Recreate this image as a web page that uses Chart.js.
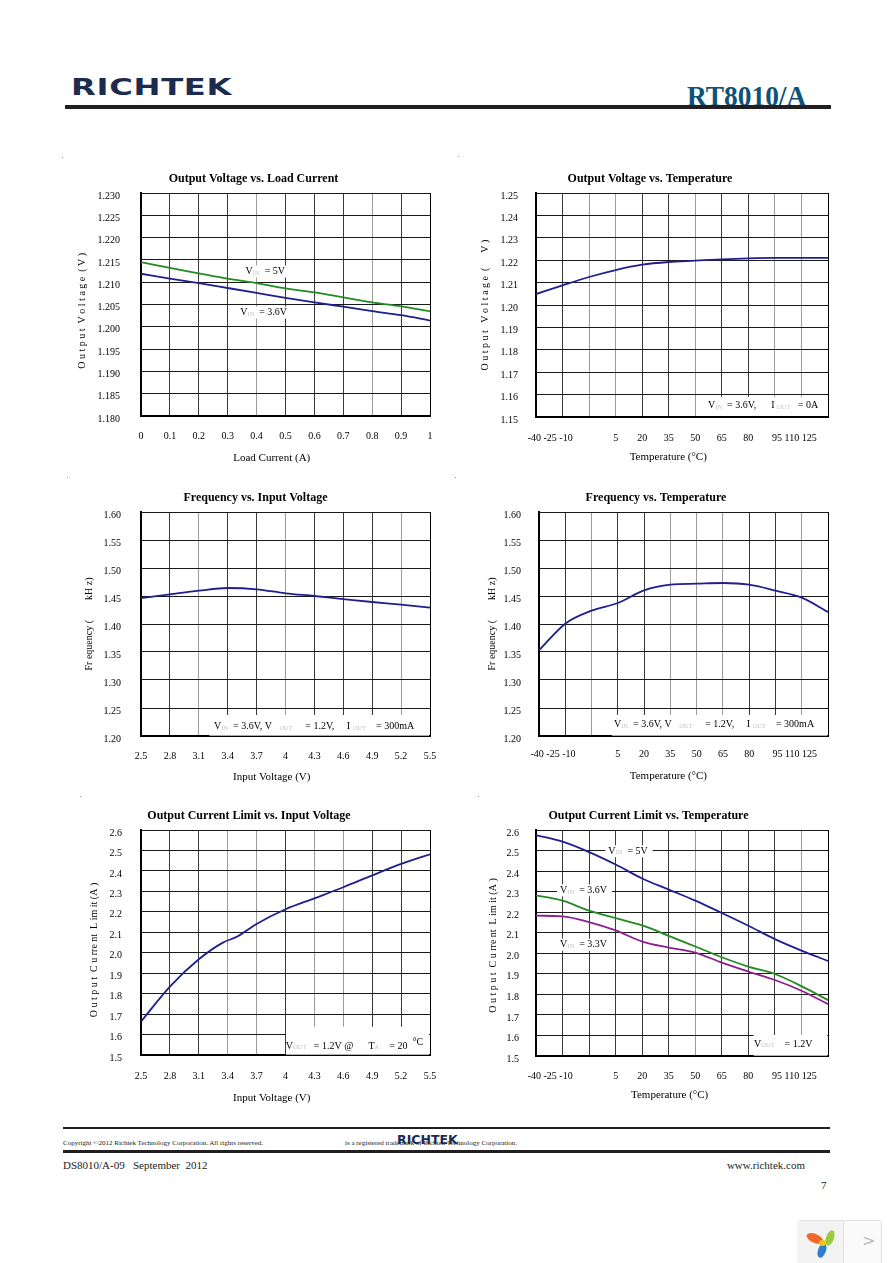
<!DOCTYPE html>
<html><head><meta charset="utf-8">
<script src="https://cdn.jsdelivr.net/npm/chart.js@4.4.0/dist/chart.umd.min.js"></script>
<style>
html,body{margin:0;padding:0;background:#fff;}
body{width:892px;height:1263px;position:relative;overflow:hidden;font-family:"Liberation Serif",serif;}
.abs{position:absolute;white-space:pre;}
canvas{position:absolute;}
.petal{position:absolute;border-radius:50%;}
</style></head><body>
<div class="abs" style="left:71px;top:76.3px;font:bold 23px 'DejaVu Sans';line-height:23px;color:#1c2b4e;letter-spacing:0.5px;transform:scaleX(1.4);transform-origin:0 0;">RICHTEK</div>
<div class="abs" style="right:86px;top:82px;font:bold 29px 'Liberation Serif';line-height:29px;color:#0f5279;transform:scaleX(0.945);transform-origin:100% 0;">RT8010/A</div>
<div class="abs" style="left:65px;top:105px;width:766px;height:4px;background:#231f20"></div>

<div class="abs" style="left:62px;top:157px;width:1px;height:1px;background:#999"></div>
<div class="abs" style="left:458px;top:156px;width:1px;height:1px;background:#999"></div>
<div class="abs" style="left:67px;top:477px;width:1px;height:1px;background:#999"></div>
<div class="abs" style="left:455px;top:477px;width:1px;height:1px;background:#999"></div>
<div class="abs" style="left:80px;top:796px;width:1px;height:1px;background:#999"></div>
<div class="abs" style="left:478px;top:796px;width:1px;height:1px;background:#999"></div>

<div class="abs" style="left:63px;top:1127px;width:767px;height:2px;background:#231f20"></div>
<div class="abs" style="left:63px;top:1139px;font:7px 'Liberation Serif';color:#222;">Copyright ©2012 Richtek Technology Corporation. All rights reserved.</div>
<div class="abs" style="left:345px;top:1139px;font:7px 'Liberation Serif';color:#222;">is a registered trademark of Richtek Technology Corporation.</div>
<div class="abs" style="left:397px;top:1133.5px;font:bold 12.5px 'DejaVu Sans';line-height:12.5px;color:#1c2b4e;">RICHTEK</div>
<div class="abs" style="left:63px;top:1150px;width:767px;height:3px;background:#231f20"></div>
<div class="abs" style="left:63px;top:1159px;font:11px 'Liberation Serif';color:#222;">DS8010/A-09   September  2012</div>
<div class="abs" style="right:87px;top:1159px;font:11px 'Liberation Serif';color:#222;">www.richtek.com</div>
<div class="abs" style="left:821px;top:1179px;font:11px 'Liberation Serif';color:#222;">7</div>

<div class="abs" style="left:797px;top:1220px;width:83px;height:43px;background:#fafafa;border:1px solid #e2e2e2;border-radius:3px;"></div>
<div class="abs" style="left:797px;top:1221px;width:46px;height:42px;background:#f3f3f3;"></div>
<div class="abs" style="left:843px;top:1221px;width:1px;height:42px;background:#e2e2e2"></div>
<div class="petal" style="left:806px;top:1234px;width:18px;height:9px;background:#ef6a2a;transform:rotate(25deg);"></div>
<div class="petal" style="left:826px;top:1230px;width:8px;height:16px;background:#9ccc3c;transform:rotate(20deg);"></div>
<div class="petal" style="left:818px;top:1243px;width:8px;height:15px;background:#2f7fc8;transform:rotate(20deg);"></div>
<div class="petal" style="left:819px;top:1240px;width:7px;height:6px;background:#f5c518;"></div>
<div class="abs" style="left:862px;top:1231px;font:16px 'DejaVu Sans';color:#bbb;">&gt;</div>

<script>
const FONT = "'Liberation Serif', 'Times New Roman', serif";
const BLUE = '#1f1f8f', GREEN = '#228b22', PURPLE = '#8e1f8e';

// ---------- data ----------
const loadCurrent = [0, 0.1, 0.2, 0.3, 0.4, 0.5, 0.6, 0.7, 0.8, 0.9, 1.0];
const voutVin5  = [1.2145, 1.2132, 1.2120, 1.2108, 1.2098, 1.2086, 1.2077, 1.2066, 1.2055, 1.2046, 1.2035];
const voutVin36 = [1.2119, 1.2108, 1.2098, 1.2087, 1.2076, 1.2065, 1.2055, 1.2045, 1.2035, 1.2026, 1.2014];

const temperature = [-40, -25, -10, 5, 20, 35, 50, 65, 80, 95, 110, 125];
const voutVsTemp = [1.2049, 1.2088, 1.2125, 1.2156, 1.2180, 1.2192, 1.2198, 1.2204, 1.2208, 1.2210, 1.2210, 1.2210];

const inputVoltage = [2.5, 2.8, 3.1, 3.4, 3.7, 4.0, 4.3, 4.6, 4.9, 5.2, 5.5];
const freqVsVin = [1.4464, 1.4530, 1.4595, 1.4643, 1.4620, 1.4548, 1.4500, 1.4446, 1.4393, 1.4345, 1.4292];

const freqVsTemp = [1.3530, 1.4006, 1.4238, 1.4375, 1.4600, 1.4702, 1.4720, 1.4732, 1.4702, 1.4595, 1.4470, 1.4214];

const limitVinX = [2.5, 2.8, 3.1, 3.35, 3.5, 3.7, 4.0, 4.3, 4.6, 4.9, 5.2, 5.5];
const limitVsVin = [1.6635, 1.8345, 1.9680, 2.0495, 2.0790, 2.1407, 2.2124, 2.2660, 2.3200, 2.3780, 2.4340, 2.4810];

const limitTempVin5  = [2.5756, 2.5430, 2.4924, 2.4320, 2.3637, 2.3100, 2.2560, 2.1960, 2.1340, 2.0687, 2.0130, 1.9630];
const limitTempVin36 = [2.2820, 2.2560, 2.2072, 2.1710, 2.1355, 2.0850, 2.0330, 1.9807, 1.9350, 1.8990, 1.8400, 1.7720];
const limitTempVin33 = [2.1828, 2.1800, 2.1520, 2.1110, 2.0570, 2.0280, 2.0035, 1.9546, 1.9110, 1.8700, 1.8177, 1.7525];

// ---------- tick values / labels ----------
const loadTicks = [0, 0.1, 0.2, 0.3, 0.4, 0.5, 0.6, 0.7, 0.8, 0.9, 1.0];
const loadTickLabels = ['0', '0.1', '0.2', '0.3', '0.4', '0.5', '0.6', '0.7', '0.8', '0.9', '1'];
const vinTicks = [2.5, 2.8, 3.1, 3.4, 3.7, 4.0, 4.3, 4.6, 4.9, 5.2, 5.5];
const vinTickLabels = ['2.5', '2.8', '3.1', '3.4', '3.7', '4', '4.3', '4.6', '4.9', '5.2', '5.5'];
const tempTicks = [-40, -25, -10, 5, 20, 35, 50, 65, 80, 95, 110, 125];
const tempLabelPos = [-32, 5, 20, 35, 50, 65, 80, 106];
const tempLabelText = ['-40 -25 -10', '5', '20', '35', '50', '65', '80', '95 110 125'];
const voutTicks = [1.180, 1.185, 1.190, 1.195, 1.200, 1.205, 1.210, 1.215, 1.220, 1.225, 1.230];
const voutTempTicks = [1.15, 1.16, 1.17, 1.18, 1.19, 1.20, 1.21, 1.22, 1.23, 1.24, 1.25];
const freqTicks = [1.20, 1.25, 1.30, 1.35, 1.40, 1.45, 1.50, 1.55, 1.60];
const limitTicks = [1.5, 1.6, 1.7, 1.8, 1.9, 2.0, 2.1, 2.2, 2.3, 2.4, 2.5, 2.6];

// ---------- helpers ----------
const SHADE = {K: '#000', D: '#3a3a3a', G: '#9c9c9c'};
const PADR = 32;

function notesPlugin(items) {
  return {
    id: 'notes',
    beforeDatasetsDraw(chart) {
      const ctx = chart.ctx, xs = chart.scales.x, ys = chart.scales.y;
      const fontOf = s => (s.sub ? '6.5px ' : '10px ') + FONT;
      items.forEach(it => {
        ctx.save();
        if (it.box) {
          const a = xs.getPixelForValue(it.box[0]), b = xs.getPixelForValue(it.box[1]);
          const c = ys.getPixelForValue(it.box[2]), d = ys.getPixelForValue(it.box[3]);
          ctx.fillStyle = '#fff';
          ctx.fillRect(a, d, b - a, c - d);
        }
        let px = xs.getPixelForValue(it.x);
        const py = ys.getPixelForValue(it.y);
        let total = 0;
        it.segs.forEach(s => { ctx.font = fontOf(s); total += ctx.measureText(s.t).width; });
        if (it.bg) { ctx.fillStyle = '#fff'; ctx.fillRect(px - 3, py - 6, total + 8, 12); }
        ctx.textBaseline = 'middle';
        ctx.textAlign = 'left';
        it.segs.forEach(s => {
          ctx.font = fontOf(s);
          ctx.fillStyle = s.sub ? '#c4c4c4' : '#000';
          ctx.fillText(s.t, px, py + (s.sub ? 1.5 : (s.sup ? -4 : 0)));
          px += ctx.measureText(s.t).width;
        });
        ctx.restore();
      });
    }
  };
}

function makeChart(spec) {
  const x0 = 2 * spec.titleX - spec.R;
  const y0 = spec.T - 30;
  const W = Math.round(spec.R + PADR - x0);
  const H = Math.round(spec.xTitleY + 12 - y0);
  const cv = document.createElement('canvas');
  cv.width = W; cv.height = H;
  cv.style.left = x0 + 'px'; cv.style.top = y0 + 'px';
  cv.style.width = W + 'px'; cv.style.height = H + 'px';
  document.body.appendChild(cv);
  const yW = spec.L - x0;
  const xH = H - (spec.B - y0);
  new Chart(cv, {
    type: 'line',
    data: {
      datasets: spec.datasets.map(d => ({
        label: d.label,
        data: d.xs.map((xv, i) => ({x: xv, y: d.ys[i]})),
        borderColor: d.color, borderWidth: 1.8, pointRadius: 0, fill: false,
        cubicInterpolationMode: 'monotone', xAxisID: 'x', yAxisID: 'y'
      }))
    },
    options: {
      responsive: false, animation: false, devicePixelRatio: 1,
      events: [],
      layout: {padding: {left: 0, top: 0, right: W - (spec.R - x0), bottom: 0}},
      plugins: {
        legend: {display: false}, tooltip: {enabled: false},
        title: {display: true, text: spec.title, color: '#000',
          font: {family: FONT, size: 12, weight: 'bold', lineHeight: 1.2},
          padding: {top: 8.8, bottom: 6.8}}
      },
      scales: {
        x: {
          type: 'linear', position: 'bottom', weight: 0, min: spec.xMin, max: spec.xMax,
          afterBuildTicks: s => { s.ticks = spec.xGrid.map(v => ({value: v})); },
          afterFit: s => { s.height = 0; },
          grid: {drawTicks: false, lineWidth: 1, color: c => SHADE[spec.xShade[c.index]] || '#3a3a3a'},
          border: {display: true, color: '#000', width: 2},
          ticks: {display: false}
        },
        xl: {
          type: 'linear', position: 'bottom', weight: 1, min: spec.xMin, max: spec.xMax,
          afterBuildTicks: s => { s.ticks = spec.xLabelPos.map(v => ({value: v})); },
          afterFit: s => { s.height = xH; },
          grid: {display: false, drawTicks: false}, border: {display: false},
          ticks: {autoSkip: false, maxRotation: 0, minRotation: 0, padding: spec.xLabelY - spec.B - 6,
            color: '#000', font: {family: FONT, size: 10}, callback: (v, i) => spec.xLabelText[i]},
          title: {display: true, text: spec.xTitle, color: '#000', font: {family: FONT, size: 11}, padding: {top: 0, bottom: 5.4}}
        },
        y: {
          type: 'linear', min: spec.yMin, max: spec.yMax,
          afterBuildTicks: s => { s.ticks = spec.yTicks.map(v => ({value: v})); },
          afterFit: s => { s.width = yW; },
          grid: {drawTicks: false, color: '#1a1a1a', lineWidth: 1},
          border: {color: '#000', width: 2},
          ticks: {autoSkip: false, padding: spec.yGap, labelOffset: 3, color: '#000',
            font: {family: FONT, size: 10}, callback: v => v.toFixed(spec.yDec)},
          title: {display: true, text: spec.yTitle, color: '#000', font: {family: FONT, size: 10, lineHeight: 1},
            padding: {top: spec.yTitleX - x0 - 5, bottom: 0}}
        }
      }
    },
    plugins: [notesPlugin(spec.notes)]
  });
}

const S = t => ({t: t, sub: true});
const N = t => ({t: t});

makeChart({
  title: 'Output Voltage vs. Load Current', L: 141, R: 430, T: 193, B: 416, titleX: 253.5,
  xTitleY: 458, xLabelY: 436.7, yGap: 21, yTitleX: 82,
  xMin: 0, xMax: 1, xGrid: loadTicks, xLabelPos: loadTicks, xLabelText: loadTickLabels, xShade: 'KDDDGDDDGDK',
  yMin: 1.18, yMax: 1.23, yTicks: voutTicks, yDec: 3,
  yTitle: 'O u t p u t  V o l t a g e  ( V )     ', xTitle: 'Load Current (A)          ',
  datasets: [{label: 'VIN = 5V', xs: loadCurrent, ys: voutVin5, color: GREEN},
             {label: 'VIN = 3.6V', xs: loadCurrent, ys: voutVin36, color: BLUE}],
  notes: [
    {x: 0.362, y: 1.2124, bg: true, segs: [N('V'), S('IN'), N('  = 5V')]},
    {x: 0.343, y: 1.2032, bg: true, segs: [N('V'), S('IN'), N('  = 3.6V')]}
  ]
});

makeChart({
  title: 'Output Voltage vs. Temperature', L: 536, R: 828, T: 193, B: 417, titleX: 650,
  xTitleY: 457, xLabelY: 438.3, yGap: 18, yTitleX: 485,
  xMin: -40, xMax: 125, xGrid: tempTicks, xLabelPos: tempLabelPos, xLabelText: tempLabelText, xShade: 'KDGGDDGDDGGK',
  yMin: 1.15, yMax: 1.25, yTicks: voutTempTicks, yDec: 2,
  yTitle: 'O u t p u t   V o l t a g e  (      V )', xTitle: 'Temperature (°C)          ',
  datasets: [{label: 'VIN = 3.6V', xs: temperature, ys: voutVsTemp, color: BLUE}],
  notes: [
    {box: [54, 124.6, 1.1505, 1.159], x: 57.2, y: 1.1552,
     segs: [N('V'), S('IN'), N('  = 3.6V,      I '), S('OUT'), N('   = 0A')]}
  ]
});

makeChart({
  title: 'Frequency vs. Input Voltage', L: 141, R: 430, T: 512, B: 736, titleX: 255.5,
  xTitleY: 777, xLabelY: 756, yGap: 20, yTitleX: 89,
  xMin: 2.5, xMax: 5.5, xGrid: vinTicks, xLabelPos: vinTicks, xLabelText: vinTickLabels, xShade: 'KDGDDGDDDGK',
  yMin: 1.2, yMax: 1.6, yTicks: freqTicks, yDec: 2,
  yTitle: 'Fr equency (        kH z)', xTitle: 'Input Voltage (V)          ',
  datasets: [{label: 'Frequency', xs: inputVoltage, ys: freqVsVin, color: BLUE}],
  notes: [
    {box: [3.21, 5.49, 1.2006, 1.2375], x: 3.258, y: 1.2166,
     segs: [N('V'), S('IN'), N('  = 3.6V, V   '), S('OUT'), N('     = 1.2V,     I '), S('OUT'), N('    = 300mA')]}
  ]
});

makeChart({
  title: 'Frequency vs. Temperature', L: 539, R: 828, T: 512, B: 736, titleX: 656,
  xTitleY: 776, xLabelY: 754.3, yGap: 18, yTitleX: 492,
  xMin: -40, xMax: 125, xGrid: tempTicks, xLabelPos: tempLabelPos, xLabelText: tempLabelText, xShade: 'KDGDDGGGDDGK',
  yMin: 1.2, yMax: 1.6, yTicks: freqTicks, yDec: 2,
  yTitle: 'Fr equency (        kH z)', xTitle: 'Temperature (°C)           ',
  datasets: [{label: 'Frequency', xs: temperature, ys: freqVsTemp, color: BLUE}],
  notes: [
    {box: [1.6, 124.6, 1.2006, 1.2375], x: 2.8, y: 1.2200,
     segs: [N('V'), S('IN'), N('  = 3.6V, V   '), S('OUT'), N('     = 1.2V,     I '), S('OUT'), N('    = 300mA')]}
  ]
});

makeChart({
  title: 'Output Current Limit vs. Input Voltage', L: 141, R: 430, T: 830, B: 1055, titleX: 249,
  xTitleY: 1098, xLabelY: 1076, yGap: 19, yTitleX: 94.5,
  xMin: 2.5, xMax: 5.5, xGrid: vinTicks, xLabelPos: vinTicks, xLabelText: vinTickLabels, xShade: 'KDDGGDGGDDK',
  yMin: 1.5, yMax: 2.6, yTicks: limitTicks, yDec: 1,
  yTitle: 'O u t p u t  C u rre nt  L im it (A )      ', xTitle: 'Input Voltage (V)          ',
  datasets: [{label: 'Current Limit', xs: limitVinX, ys: limitVsVin, color: BLUE}],
  notes: [
    {box: [4.006, 5.49, 1.5015, 1.638], x: 4.003, y: 1.544,
     segs: [N('V'), S('OUT'), N('   = 1.2V @      T'), S('A'), N('    = 20  '), {t: '°C', sup: true}]}
  ]
});

makeChart({
  title: 'Output Current Limit vs. Temperature', L: 536, R: 828, T: 830, B: 1056, titleX: 648.5,
  xTitleY: 1095, xLabelY: 1076, yGap: 17, yTitleX: 493.5,
  xMin: -40, xMax: 125, xGrid: tempTicks, xLabelPos: tempLabelPos, xLabelText: tempLabelText, xShade: 'KDDDDDGDDDGK',
  yMin: 1.5, yMax: 2.6, yTicks: limitTicks, yDec: 1,
  yTitle: 'O u t p u t  C u rre nt  L im it (A )  ', xTitle: 'Temperature (°C)         ',
  datasets: [{label: 'VIN = 5V', xs: temperature, ys: limitTempVin5, color: BLUE},
             {label: 'VIN = 3.6V', xs: temperature, ys: limitTempVin36, color: GREEN},
             {label: 'VIN = 3.3V', xs: temperature, ys: limitTempVin33, color: PURPLE}],
  notes: [
    {x: 0.86, y: 2.4966, bg: true, segs: [N('V'), S('IN'), N('  = 5V')]},
    {x: -26.4, y: 2.3063, bg: true, segs: [N('V'), S('IN'), N('  = 3.6V')]},
    {x: -26.4, y: 2.0415, bg: true, segs: [N('V'), S('IN'), N('  = 3.3V')]},
    {box: [83, 124.6, 1.5015, 1.6024], x: 83.2, y: 1.5585,
     segs: [N('V'), S('OUT'), N('    = 1.2V')]}
  ]
});
</script>
</body></html>
